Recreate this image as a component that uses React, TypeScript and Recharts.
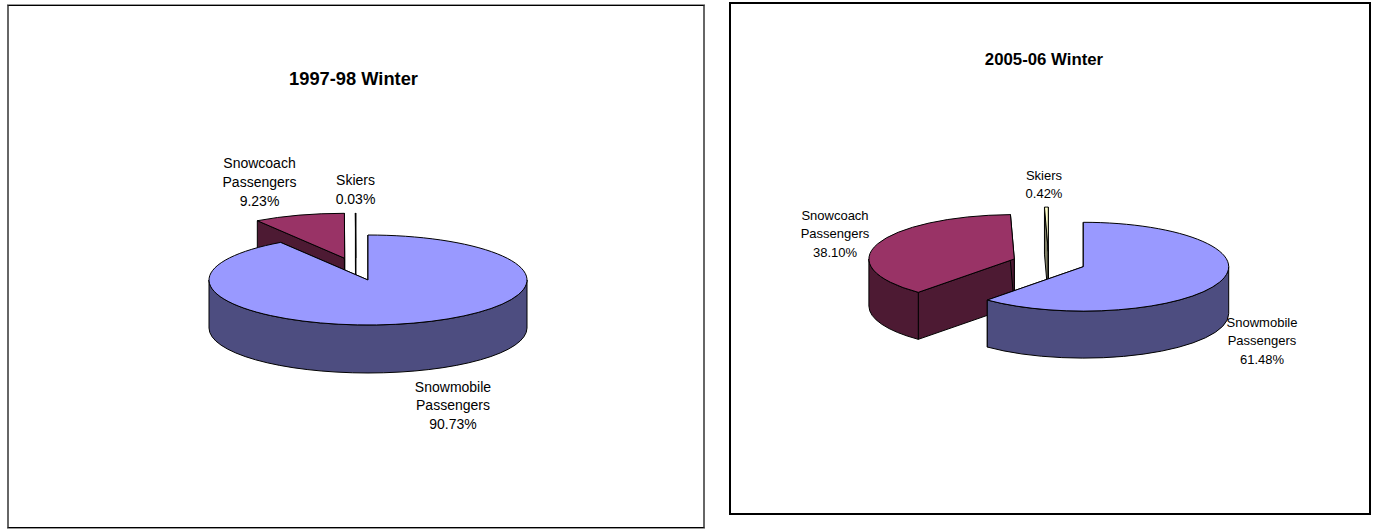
import React from "react";
import { PieChart, Pie } from "recharts";

// Slice order is back to front, so the largest slice paints last.
const sliceNames = ["Skiers", "Snowcoach Passengers", "Snowmobile Passengers"];
const winter9798Shares = [0.03, 9.23, 90.73];
const winter0506Shares = [0.42, 38.1, 61.48];

const FACE = ["#FFFFCC", "#993366", "#9999FF"];
const WALL = ["#808066", "#4D1A33", "#4D4D80"];

const FONT = "'Liberation Sans', Arial, sans-serif";

type Layout = {
  title: string;
  titleX: number;
  titleY: number;
  titleSize: number;
  labelSize: number;
  lineGap: number;
  left: number;
  width: number;
  height: number;
  cx: number;
  cy: number;
  rx: number;
  tilt: number;
  depth: number;
  shifts: [number, number][];
  labels: [number, number][];
};

const layout9798: Layout = {
  title: "1997-98 Winter",
  titleX: 353.5,
  titleY: 85,
  titleSize: 18.3,
  labelSize: 14,
  lineGap: 18.8,
  left: 0,
  width: 715,
  height: 529,
  cx: 368,
  cy: 280,
  rx: 159,
  tilt: 45 / 159,
  depth: 48,
  shifts: [[-12.3, -22], [-23.3, -21.7], [0, 0]],
  labels: [[355.5, 185], [259.5, 168], [453, 391.5]],
};

const layout0506: Layout = {
  title: "2005-06 Winter",
  titleX: 329,
  titleY: 65,
  titleSize: 16.8,
  labelSize: 13,
  lineGap: 18.4,
  left: 715,
  width: 660,
  height: 529,
  cx: 368.3,
  cy: 266.7,
  rx: 145.4,
  tilt: 44.4 / 145.4,
  depth: 47,
  shifts: [[-35, -15.2], [-69, -7.7], [0, 0]],
  labels: [[329, 180], [120, 220], [547, 327]],
};

function tiltedSlice(cfg: Layout) {
  return (props: any) => {
    const idx = sliceNames.indexOf(props.name ?? props.payload?.name);
    const [dx, dy] = cfg.shifts[idx];
    const cx = props.cx + dx;
    const cy = props.cy + dy;
    const rx = props.outerRadius;
    const ry = rx * cfg.tilt;
    const a0 = props.startAngle;
    const a1 = props.endAngle;
    const at = (deg: number, drop = 0) => {
      const t = (deg * Math.PI) / 180;
      return `${cx + rx * Math.cos(t)} ${cy - ry * Math.sin(t) + drop}`;
    };
    const d = cfg.depth;
    const large = a1 - a0 > 180 ? 1 : 0;
    const top = `M${cx} ${cy}L${at(a0)}A${rx} ${ry} 0 ${large} 0 ${at(a1)}Z`;
    const cut = (deg: number) =>
      `M${cx} ${cy}L${at(deg)}L${at(deg, d)}L${cx} ${cy + d}Z`;
    // Only the near half of the rim faces the viewer.
    const w0 = Math.max(a0, 180);
    const w1 = Math.min(a1, 360);
    const rim =
      w1 > w0
        ? `M${at(w0)}A${rx} ${ry} 0 0 0 ${at(w1)}L${at(w1, d)}A${rx} ${ry} 0 0 1 ${at(w0, d)}Z`
        : null;
    const line = { stroke: "#000", strokeWidth: 1, strokeLinejoin: "round" as const };
    return (
      <g>
        <path d={cut(a1)} fill={WALL[idx]} {...line} />
        <path d={cut(a0)} fill={WALL[idx]} {...line} />
        {rim && <path d={rim} fill={WALL[idx]} {...line} />}
        <path d={top} fill={FACE[idx]} {...line} />
      </g>
    );
  };
}

function sliceLabel(cfg: Layout) {
  return (props: any) => {
    const idx = sliceNames.indexOf(props.name ?? props.payload?.name);
    const [x, y] = cfg.labels[idx];
    const lines = [...String(props.name).split(" "), `${Number(props.value).toFixed(2)}%`];
    return (
      <text x={x} y={y} textAnchor="middle" fontFamily={FONT} fontSize={cfg.labelSize} fill="#000">
        {lines.map((s, i) => (
          <tspan key={s} x={x} y={y + i * cfg.lineGap}>
            {s}
          </tspan>
        ))}
      </text>
    );
  };
}

function WinterPie({ cfg, shares }: { cfg: Layout; shares: number[] }) {
  const rows = sliceNames.map((name, i) => ({ name, value: shares[i] }));
  return (
    <div style={{ position: "absolute", left: cfg.left, top: 0 }}>
      <PieChart width={cfg.width} height={cfg.height} margin={{ top: 0, right: 0, bottom: 0, left: 0 }}>
        <Pie
          data={rows}
          dataKey="value"
          nameKey="name"
          cx={cfg.cx}
          cy={cfg.cy}
          innerRadius={0}
          outerRadius={cfg.rx}
          startAngle={90}
          endAngle={450}
          stroke="none"
          shape={tiltedSlice(cfg)}
          label={sliceLabel(cfg)}
          labelLine={false}
          isAnimationActive={false}
        />
        <text
          x={cfg.titleX}
          y={cfg.titleY}
          textAnchor="middle"
          fontFamily={FONT}
          fontWeight="bold"
          fontSize={cfg.titleSize}
          fill="#000"
        >
          {cfg.title}
        </text>
      </PieChart>
    </div>
  );
}

export default function App() {
  return (
    <div style={{ position: "absolute", left: 0, top: 0, width: 1375, height: 529, background: "#fff", overflow: "hidden" }}>
      <div
        style={{
          position: "absolute",
          left: 7,
          top: 5,
          width: 694,
          height: 521,
          borderStyle: "solid",
          borderWidth: "1px 2px",
          borderColor: "#000 #666",
          boxShadow: "0 -1px 0 #999, 0 1px 0 #999",
        }}
      />
      <div style={{ position: "absolute", left: 729, top: 2, width: 638, height: 509, border: "2px solid #000" }} />
      <WinterPie cfg={layout9798} shares={winter9798Shares} />
      <WinterPie cfg={layout0506} shares={winter0506Shares} />
    </div>
  );
}
